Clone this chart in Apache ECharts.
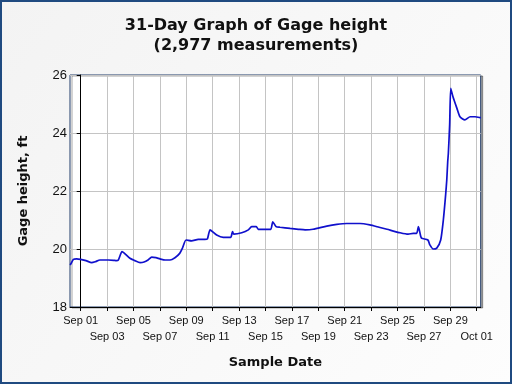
<!DOCTYPE html>
<html>
<head>
<meta charset="utf-8">
<script src="https://cdn.jsdelivr.net/npm/echarts@6/dist/echarts.min.js"></script>
<style>
html,body{margin:0;padding:0;background:#fff;}
#c{width:512px;height:384px;}
</style>
</head>
<body>
<div id="c"></div>
<script>
// Days since Sep 01 00:00
var days = [-0.8,-0.73,-0.55,-0.3,0.0,0.4,0.83,1.1,1.46,2.1,2.5,2.7,2.85,3.13,3.3,3.73,4.1,4.5,4.8,5.1,5.38,5.7,6.0,6.4,6.77,7.14,7.5,7.7,7.98,8.4,8.9,9.4,9.6,9.8,10.3,10.8,11.36,11.5,11.6,12.2,12.7,12.95,13.3,13.45,13.96,14.4,14.55,14.8,15.1,15.86,16.5,17.0,17.6,18.64,19.4,20.15,21.16,21.9,22.6,23.2,24.2,24.8,25.2,25.45,25.58,25.75,25.83,26.3,26.45,26.7,26.97,27.27,27.47,27.65,27.73,27.8,27.85,27.95,28.03,28.2,28.5,28.73,29.1,29.5,29.87,30.25,30.3];
var gage = [19.45,19.5,19.64,19.66,19.64,19.6,19.53,19.56,19.62,19.62,19.61,19.6,19.62,19.91,19.86,19.68,19.6,19.53,19.55,19.62,19.72,19.7,19.66,19.62,19.62,19.7,19.85,20.02,20.31,20.28,20.33,20.33,20.35,20.66,20.48,20.4,20.4,20.6,20.51,20.56,20.66,20.77,20.77,20.68,20.68,20.68,20.94,20.77,20.75,20.71,20.68,20.66,20.68,20.79,20.85,20.88,20.88,20.83,20.75,20.68,20.56,20.51,20.54,20.54,20.77,20.45,20.37,20.31,20.14,20.0,20.03,20.31,21.0,21.9,22.38,23.0,23.3,24.3,25.54,25.25,24.85,24.56,24.45,24.56,24.56,24.53,24.52];
var tickLabels = ['Sep 01','Sep 03','Sep 05','Sep 07','Sep 09','Sep 11','Sep 13','Sep 15','Sep 17','Sep 19','Sep 21','Sep 23','Sep 25','Sep 27','Sep 29','Oct 01'];
var yTicks = [18,20,22,24,26];

var tickPos = tickLabels.map(function(_, i){ return i * 2; });
var rowOne = tickPos.filter(function(_, i){ return i % 2 === 0; });
var rowTwo = tickPos.filter(function(_, i){ return i % 2 === 1; });
var seriesData = days.map(function(d, i){ return [d, gage[i]]; });
function lab(v){ return tickLabels[Math.round(v/2)] || ''; }
var labStyle = {fontFamily:'Liberation Sans',fontSize:11,color:'#111',showMinLabel:true,showMaxLabel:true,hideOverlap:false,formatter:lab};

var chart = echarts.init(document.getElementById('c'), null, {renderer:'canvas'});
chart.setOption({
  animation:false,
  backgroundColor:{type:'linear',x:0,y:0,x2:1,y2:1,colorStops:[{offset:0,color:'#f3f3f3'},{offset:1,color:'#fdfdfd'}]},
  title:{
    text:'31-Day Graph of Gage height\n(2,977 measurements)',
    left:'center', top:11,
    textStyle:{fontFamily:'DejaVu Sans',fontWeight:'bold',fontSize:16,lineHeight:20,color:'#111'}
  },
  graphic:[{type:'rect',shape:{x:1,y:1,width:510,height:382},style:{fill:null,stroke:'#1f4a80',lineWidth:2},silent:true}],
  grid:{left:70,right:31.3,top:75,bottom:77,show:true,backgroundColor:'#ffffff',borderColor:'#1f3a68',borderWidth:1,
        shadowColor:'rgba(0,0,0,0.35)',shadowOffsetX:2,shadowOffsetY:1,shadowBlur:0},
  xAxis:[{
    type:'value', min:-0.81, max:30.3, position:'bottom',
    name:'Sample Date', nameLocation:'middle', nameGap:49,
    nameTextStyle:{fontFamily:'DejaVu Sans',fontWeight:'bold',fontSize:13,color:'#111'},
    axisLine:{show:true,onZero:false,lineStyle:{color:'#000',width:1}},
    axisTick:{show:true,length:4,customValues:tickPos,lineStyle:{color:'#000'}},
    axisLabel:Object.assign({customValues:rowOne,margin:8},labStyle),
    splitLine:{show:true,lineStyle:{color:'#c4c4c4',width:1}}
  },{
    type:'value', min:-0.81, max:30.3, position:'bottom',
    axisLine:{show:false,onZero:false},
    axisTick:{show:false},
    axisLabel:Object.assign({customValues:rowTwo,margin:24},labStyle),
    splitLine:{show:false}
  }],
  yAxis:{
    type:'value', min:18, max:26, interval:2,
    name:'Gage height, ft', nameLocation:'middle', nameGap:40,
    nameTextStyle:{fontFamily:'DejaVu Sans',fontWeight:'bold',fontSize:13,color:'#111'},
    axisLine:{show:true,lineStyle:{color:'#000',width:1}},
    axisTick:{show:true,length:4,lineStyle:{color:'#000'}},
    axisLabel:{margin:3,fontFamily:'Liberation Sans',fontSize:13,color:'#111',
      showMinLabel:true,showMaxLabel:true,
      formatter:function(v){ return yTicks.indexOf(v)>=0 ? String(v) : ''; }},
    splitLine:{show:true,lineStyle:{color:'#c4c4c4',width:1}}
  },
  series:[{type:'line',xAxisIndex:0,data:seriesData,showSymbol:false,smooth:0.2,lineStyle:{color:'#1010cc',width:1.7},clip:true}]
});
</script>
</body>
</html>
